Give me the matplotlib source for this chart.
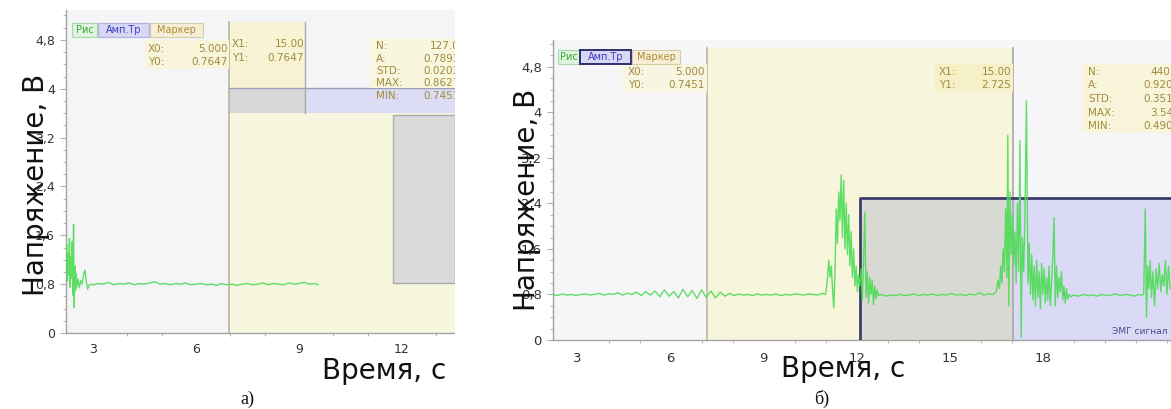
import matplotlib
matplotlib.use("Agg")
import matplotlib.pyplot as plt
from matplotlib.patches import Rectangle
from matplotlib.ticker import MultipleLocator

# ---------------- data ----------------
y_ticks = [0, 0.8, 1.6, 2.4, 3.2, 4.0, 4.8]
y_tick_labels = ["0", "0,8", "1,6", "2,4", "3,2", "4", "4,8"]
x_ticks_a = [3, 6, 9, 12]
x_ticks_b = [3, 6, 9, 12, 15, 18]

# EMG signal, panel a (time s, voltage V)
a_burst = [(2.21, 1.05), (2.23, 1.45), (2.25, 0.85), (2.27, 1.30), (2.29, 0.95),
           (2.31, 1.55), (2.33, 0.75), (2.35, 1.25), (2.37, 0.90), (2.39, 1.50),
           (2.41, 0.62), (2.43, 1.78), (2.45, 0.42), (2.47, 1.10), (2.49, 0.70),
           (2.51, 0.98), (2.53, 0.76), (2.56, 0.88), (2.60, 0.74), (2.64, 0.86),
           (2.68, 0.80), (2.72, 0.95), (2.76, 1.03), (2.80, 0.86), (2.84, 0.72),
           (2.88, 0.78), (2.93, 0.80)]
a_rest = [(3.00, 0.79), (3.15, 0.81), (3.30, 0.80), (3.45, 0.83), (3.60, 0.79),
          (3.75, 0.81), (3.90, 0.80), (4.05, 0.82), (4.20, 0.79), (4.35, 0.81),
          (4.50, 0.80), (4.65, 0.82), (4.80, 0.84), (4.95, 0.80), (5.10, 0.81),
          (5.25, 0.79), (5.40, 0.81), (5.55, 0.80), (5.70, 0.82), (5.85, 0.79),
          (6.00, 0.80), (6.15, 0.81), (6.30, 0.79), (6.45, 0.80), (6.60, 0.78),
          (6.75, 0.81), (6.90, 0.79), (7.05, 0.80), (7.20, 0.78), (7.35, 0.80),
          (7.50, 0.81), (7.65, 0.79), (7.80, 0.80), (7.95, 0.82), (8.10, 0.79),
          (8.25, 0.81), (8.40, 0.80), (8.55, 0.79), (8.70, 0.82), (8.85, 0.80),
          (9.00, 0.81), (9.15, 0.83), (9.30, 0.80), (9.45, 0.81), (9.56, 0.79)]

# EMG signal, panel b (time s, voltage V)
b_rest1 = [(2.21, 0.80), (2.35, 0.78), (2.50, 0.81), (2.65, 0.79), (2.80, 0.80),
           (2.95, 0.78), (3.10, 0.80), (3.25, 0.81), (3.40, 0.79), (3.55, 0.80),
           (3.70, 0.82), (3.85, 0.79), (4.00, 0.81), (4.15, 0.80), (4.30, 0.83),
           (4.45, 0.79), (4.60, 0.82), (4.75, 0.80), (4.90, 0.84), (5.05, 0.78),
           (5.20, 0.85), (5.35, 0.79), (5.50, 0.86), (5.65, 0.76), (5.80, 0.88),
           (5.95, 0.77), (6.10, 0.85), (6.25, 0.74), (6.40, 0.89), (6.55, 0.76),
           (6.70, 0.87), (6.85, 0.73), (7.00, 0.88), (7.15, 0.75), (7.30, 0.86),
           (7.45, 0.74), (7.60, 0.84), (7.75, 0.77), (7.90, 0.82), (8.05, 0.78),
           (8.20, 0.81), (8.35, 0.79), (8.50, 0.80), (8.65, 0.78), (8.80, 0.81),
           (8.95, 0.79), (9.10, 0.80), (9.25, 0.79), (9.40, 0.81), (9.55, 0.78),
           (9.70, 0.80), (9.85, 0.79), (10.00, 0.81), (10.15, 0.80), (10.30, 0.79),
           (10.45, 0.81), (10.60, 0.80), (10.75, 0.79), (10.90, 0.82)]
b_burst1 = [(11.00, 0.80), (11.05, 1.05), (11.10, 1.40), (11.14, 1.10), (11.18, 1.30),
            (11.22, 0.90), (11.26, 0.56), (11.30, 1.20), (11.34, 2.30), (11.38, 1.70),
            (11.42, 2.60), (11.46, 2.10), (11.50, 2.90), (11.54, 1.80), (11.58, 2.80),
            (11.62, 1.60), (11.66, 2.40), (11.70, 1.50), (11.74, 2.20), (11.78, 1.30),
            (11.82, 1.90), (11.86, 1.10), (11.90, 1.60), (11.94, 0.95), (11.98, 1.30),
            (12.02, 0.85), (12.06, 1.15), (12.10, 0.95), (12.14, 1.25), (12.18, 0.70),
            (12.22, 1.40), (12.26, 2.25), (12.30, 0.75), (12.34, 1.20), (12.38, 0.65),
            (12.42, 1.10), (12.46, 0.80), (12.50, 1.05), (12.54, 0.62), (12.58, 0.95),
            (12.62, 0.72), (12.66, 0.88), (12.70, 0.78)]
b_rest2 = [(12.80, 0.80), (12.95, 0.77), (13.10, 0.79), (13.25, 0.78), (13.40, 0.80),
           (13.55, 0.78), (13.70, 0.79), (13.85, 0.81), (14.00, 0.78), (14.15, 0.80),
           (14.30, 0.79), (14.45, 0.81), (14.60, 0.78), (14.75, 0.80), (14.90, 0.79),
           (15.05, 0.82), (15.20, 0.79), (15.35, 0.80), (15.50, 0.78), (15.65, 0.81),
           (15.80, 0.79), (15.95, 0.83), (16.10, 0.79), (16.25, 0.81), (16.40, 0.80)]
b_burst2 = [(16.50, 0.85), (16.55, 1.05), (16.60, 0.90), (16.64, 1.30), (16.68, 1.00),
            (16.72, 1.60), (16.76, 1.20), (16.80, 2.30), (16.84, 1.10), (16.87, 3.60),
            (16.90, 0.60), (16.94, 2.60), (16.98, 1.50), (17.02, 2.20), (17.06, 1.30),
            (17.10, 1.90), (17.14, 1.00), (17.18, 2.40), (17.22, 1.20), (17.26, 3.50),
            (17.30, 0.05), (17.34, 1.80), (17.38, 1.20), (17.42, 2.10), (17.47, 4.20),
            (17.52, 1.00), (17.56, 1.70), (17.60, 0.80), (17.64, 1.50), (17.68, 0.70),
            (17.72, 1.30), (17.76, 0.60), (17.80, 1.40), (17.84, 0.75), (17.88, 1.20),
            (17.92, 0.55), (17.96, 1.35), (18.00, 0.80), (18.04, 1.25), (18.08, 0.65),
            (18.12, 1.10), (18.16, 0.70), (18.20, 1.30), (18.24, 0.60), (18.28, 1.00),
            (18.32, 1.45), (18.36, 2.15), (18.40, 0.60), (18.44, 1.30), (18.48, 0.75),
            (18.52, 1.10), (18.56, 0.85), (18.60, 1.20), (18.64, 0.70), (18.68, 0.95),
            (18.72, 0.65), (18.76, 0.90), (18.80, 0.72), (18.85, 0.80), (18.90, 0.76)]
b_rest3 = [(19.00, 0.79), (19.15, 0.77), (19.30, 0.80), (19.45, 0.78), (19.60, 0.79),
           (19.75, 0.77), (19.90, 0.80), (20.05, 0.78), (20.20, 0.79), (20.35, 0.81),
           (20.50, 0.78), (20.65, 0.80), (20.80, 0.79), (20.95, 0.77), (21.10, 0.80),
           (21.20, 0.79)]
b_burst3 = [(21.25, 0.80), (21.30, 2.30), (21.34, 0.40), (21.38, 1.30), (21.42, 0.90),
            (21.46, 1.40), (21.50, 0.75), (21.55, 1.20), (21.60, 0.60), (21.65, 1.25),
            (21.70, 0.90), (21.75, 1.35), (21.80, 0.85), (21.85, 1.15), (21.90, 0.95),
            (21.95, 1.40), (22.00, 0.80), (22.05, 1.30), (22.10, 0.90)]

stats_a_labels = ["N:", "A:", "STD:", "MAX:", "MIN:"]
stats_a_values = ["127.0", "0.7893", "0.0203", "0.8627", "0.7451"]
cursor_a = [("X0:", "5.000"), ("Y0:", "0.7647"), ("X1:", "15.00"), ("Y1:", "0.7647")]
stats_b_labels = ["N:", "A:", "STD:", "MAX:", "MIN:"]
stats_b_values = ["440.0", "0.9203", "0.3513", "3.541", "0.4902"]
cursor_b = [("X0:", "5.000"), ("Y0:", "0.7451"), ("X1:", "15.00"), ("Y1:", "2.725")]
tabs = ["Рис", "Амп.Тр", "Маркер"]

# ---------------- figure ----------------
W, H = 1171, 409
fig = plt.figure(figsize=(W / 100, H / 100), dpi=100)
fig.patch.set_facecolor("white")

SIG = "#4ddc55"
TXT = "#a08a3c"


def axes_px(left, top, right, bottom):
    return fig.add_axes([left / W, 1 - bottom / H, (right - left) / W, (bottom - top) / H])


def fx(px):
    return px / W


def fy(py):
    return 1 - py / H


def rect_px(x0, y0, x1, y1, fc, ec="none", lw=0.8, z=4):
    fig.patches.append(Rectangle((fx(x0), fy(y1)), (x1 - x0) / W, (y1 - y0) / H,
                                 transform=fig.transFigure, facecolor=fc,
                                 edgecolor=ec, linewidth=lw, zorder=z))


def style_axes(ax, xlim, ylim, xticks, pad_x, fs):
    ax.set_xlim(*xlim)
    ax.set_ylim(*ylim)
    for s in ("top", "right"):
        ax.spines[s].set_visible(False)
    for s in ("left", "bottom"):
        ax.spines[s].set_color("#a4a4a4")
        ax.spines[s].set_linewidth(1.0)
    ax.set_yticks(y_ticks)
    ax.set_yticklabels(y_tick_labels)
    ax.set_xticks(xticks)
    ax.set_xticklabels([str(t) for t in xticks])
    ax.xaxis.set_minor_locator(MultipleLocator(1))
    ax.yaxis.set_minor_locator(MultipleLocator(0.2))
    ax.tick_params(axis="x", which="major", length=0, pad=pad_x, labelsize=fs, labelcolor="#333333")
    ax.tick_params(axis="y", which="major", length=4, width=0.8, color="#b0b0b0", pad=4,
                   labelsize=fs, labelcolor="#333333")
    ax.tick_params(which="minor", length=2, width=0.8, color="#b8b8b8")


def draw_signal(ax, segments):
    pts = [p for seg in segments for p in seg]
    ax.plot([p[0] for p in pts], [p[1] for p in pts], color=SIG, lw=1.0, alpha=0.9, zorder=5)


# ---------------- panel a ----------------
ax_a = axes_px(66, 10, 455, 333)
ax_a.set_facecolor("#f5f5f7")
xa = (2.21, 13.55)
style_axes(ax_a, xa, (0, 5.29), x_ticks_a, 7, 9)

ax_a.add_patch(Rectangle((6.96, 0), xa[1] - 6.96, 3.60, fc="#f7f6df", ec="none", zorder=1))
ax_a.add_patch(Rectangle((6.96, 4.01), 9.18 - 6.96, 5.10 - 4.01, fc="#f7f3d4", ec="none", zorder=1))
ax_a.add_patch(Rectangle((6.96, 3.60), 9.18 - 6.96, 0.41, fc="#d7d7d7", ec="none", zorder=1))
ax_a.add_patch(Rectangle((9.18, 3.60), xa[1] - 9.18, 0.41, fc="#dcdcf4", ec="none", zorder=1))
ax_a.add_patch(Rectangle((11.74, 0.82), xa[1] - 11.74, 3.57 - 0.82, fc="#dadada",
                         ec="#ababab", lw=1.0, zorder=2))
ax_a.plot([6.96, xa[1]], [4.01, 4.01], color="#9d9dba", lw=1.0, zorder=3)
ax_a.plot([6.96, 6.96], [0, 5.10], color="#b9b59b", lw=1.2, zorder=3)
ax_a.plot([9.18, 9.18], [3.60, 5.10], color="#a9a9a9", lw=1.0, zorder=3)
draw_signal(ax_a, [a_burst, a_rest])

# ---------------- panel b ----------------
ax_b = axes_px(553, 40, 1171, 340)
ax_b.set_facecolor("#f6f6f8")
xb = (2.21, 22.13)
style_axes(ax_b, xb, (0, 5.27), x_ticks_b, 9, 9.5)

ax_b.add_patch(Rectangle((7.17, 0), 17.03 - 7.17, 5.13, fc="#f7f5dc", ec="none", zorder=1))
ax_b.add_patch(Rectangle((12.10, 0), 17.03 - 12.10, 2.50, fc="#d9d9d4", ec="none", zorder=1))
ax_b.add_patch(Rectangle((17.03, 0), xb[1] - 17.03, 2.50, fc="#dadaf6", ec="none", zorder=1))
ax_b.plot([7.17, 7.17], [0, 5.13], color="#bdb99d", lw=1.2, zorder=3)
ax_b.plot([17.03, 17.03], [0, 5.13], color="#a6a6a6", lw=1.2, zorder=3)
ax_b.plot([12.10, 12.10, xb[1]], [0, 2.50, 2.50], color="#3d3d6b", lw=2.0, zorder=4)
draw_signal(ax_b, [b_rest1, b_burst1, b_rest2, b_burst2, b_rest3, b_burst3])

# ---------------- overlays panel a ----------------
rect_px(370, 38, 455, 88, "#f8f6de", z=3)
rect_px(145, 40, 229, 69, "#f8f5dc", z=3)
for i, (lab, val) in enumerate(cursor_a[:2]):
    fig.text(fx(148), fy(49 + 13 * i), lab, fontsize=7.5, color=TXT, va="center", zorder=6)
    fig.text(fx(228), fy(49 + 13 * i), val, fontsize=7.5, color=TXT, va="center", ha="right", zorder=6)
for i, (lab, val) in enumerate(cursor_a[2:]):
    fig.text(fx(232), fy(44 + 14 * i), lab, fontsize=7.5, color=TXT, va="center", zorder=6)
    fig.text(fx(304), fy(44 + 14 * i), val, fontsize=7.5, color=TXT, va="center", ha="right", zorder=6)
for i, (lab, val) in enumerate(zip(stats_a_labels, stats_a_values)):
    yy = 46 + 12.5 * i
    fig.text(fx(376), fy(yy), lab, fontsize=7.5, color=TXT, va="center", zorder=6)
    fig.text(fx(460), fy(yy), val, fontsize=7.5, color=TXT, va="center", ha="right", zorder=6)

# blank strip between the two panels
rect_px(455, 0, 505, 345, "white", z=7)

# ---------------- overlays panel b ----------------
rect_px(622, 64, 707, 92, "#f8f6e2", z=3)
rect_px(935, 64, 1013, 92, "#f6f0c8", z=3)
rect_px(1082, 64, 1171, 133, "#f8f5da", z=3)
for i, (lab, val) in enumerate(cursor_b[:2]):
    fig.text(fx(628), fy(72 + 13 * i), lab, fontsize=7.5, color=TXT, va="center", zorder=6)
    fig.text(fx(705), fy(72 + 13 * i), val, fontsize=7.5, color=TXT, va="center", ha="right", zorder=6)
for i, (lab, val) in enumerate(cursor_b[2:]):
    fig.text(fx(939), fy(72 + 13 * i), lab, fontsize=7.5, color=TXT, va="center", zorder=6)
    fig.text(fx(1011), fy(72 + 13 * i), val, fontsize=7.5, color=TXT, va="center", ha="right", zorder=6)
for i, (lab, val) in enumerate(zip(stats_b_labels, stats_b_values)):
    yy = 72 + 13.5 * i
    fig.text(fx(1088), fy(yy), lab, fontsize=7.5, color=TXT, va="center", zorder=6)
    fig.text(fx(1180), fy(yy), val, fontsize=7.5, color=TXT, va="center", ha="right", zorder=6)
fig.text(fx(1168), fy(331), "ЭМГ сигнал", fontsize=6.5, color="#4b4b8c", ha="right", va="center", zorder=6)

# ---------------- tabs ----------------
tab_styles = [("#3aa83a", "#dff3df", "#a8d8a8"), ("#3b3bbf", "#d8d8f5", "#b0b0e0"),
              ("#b08a30", "#f6efd8", "#d6cca4")]


def draw_tabs(x0, yc, widths, selected):
    x = x0
    for i, (name, w) in enumerate(zip(tabs, widths)):
        tc, bg, bc = tab_styles[i]
        ec, lw = (("#2f2f6f", 1.4) if i == selected else (bc, 0.8))
        rect_px(x, yc - 7, x + w, yc + 7, bg, ec=ec, lw=lw, z=5)
        fig.text(fx(x + w / 2), fy(yc), name, fontsize=7, color=tc, ha="center", va="center", zorder=6)
        x += w + 1


draw_tabs(72, 30, [25, 51, 53], None)
draw_tabs(558, 57, [21, 51, 48], 1)

# ---------------- axis titles and captions ----------------
LAB = dict(fontsize=20, color="#111111", family="DejaVu Sans", ha="center", va="center")
fig.text(fx(36), fy(185), "Напряжение, В", rotation=90, zorder=8, **LAB)
fig.text(fx(384), fy(371), "Время, с", zorder=8, **LAB)
fig.text(fx(527), fy(200), "Напряжение, В", rotation=90, zorder=8, **LAB)
fig.text(fx(843), fy(369), "Время, с", zorder=8, **LAB)
CAP = dict(fontsize=13, color="#111111", family="Liberation Serif", ha="center", va="center")
fig.text(fx(247), fy(399), "а)", **CAP)
fig.text(fx(822), fy(399), "б)", **CAP)

fig.savefig("out.png", dpi=100)
